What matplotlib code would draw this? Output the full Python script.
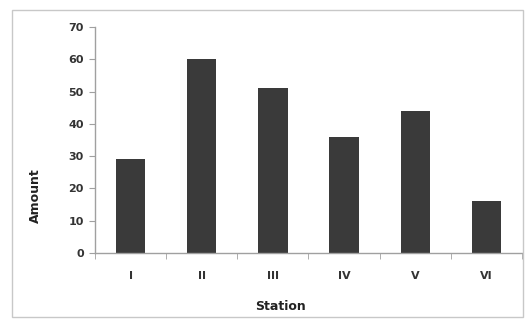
import matplotlib.pyplot as plt
import numpy as np
from matplotlib.patches import Rectangle

stations = ['I', 'II', 'III', 'IV', 'V', 'VI']
amounts = [29, 60, 51, 36, 44, 16]

fig = plt.figure(figsize=(5.28, 3.24), dpi=100)
# outer chart border like the spreadsheet frame
fig.patches.append(Rectangle((12 / 528, 1 - 317 / 324), 511 / 528, 307 / 324,
                             transform=fig.transFigure, fill=False,
                             edgecolor='#c8c8c8', linewidth=1.0))

ax = fig.add_axes([95 / 528, 1 - 253 / 324, 427 / 528, 226 / 324])
x = np.arange(len(stations))
ax.bar(x, amounts, width=0.41, color='#3a3a3a')

ax.set_xlim(-0.5, len(stations) - 0.5)
ax.set_ylim(0, 70)
ax.set_yticks(range(0, 71, 10))
ax.set_xticks(x)
ax.set_xticklabels(stations)
ax.set_xticks(np.arange(-0.5, len(stations), 1), minor=True)

for s in ['top', 'right']:
    ax.spines[s].set_visible(False)
for s in ['left', 'bottom']:
    ax.spines[s].set_color('#a0a0a0')
    ax.spines[s].set_linewidth(1.0)

ax.tick_params(axis='x', which='major', length=0, pad=13)
ax.tick_params(axis='x', which='minor', length=4, color='#a0a0a0')
ax.tick_params(axis='y', length=4, color='#a0a0a0', pad=4)
for lab in ax.get_xticklabels() + ax.get_yticklabels():
    lab.set_fontsize(8)
    lab.set_fontweight('bold')
    lab.set_color('#333333')

ax.set_xlabel('Station', fontsize=9, fontweight='bold', color='#222222')
ax.set_ylabel('Amount', fontsize=9, fontweight='bold', color='#222222')
ax.xaxis.set_label_coords((281 - 95) / 427, -(300 - 253) / 226)
ax.yaxis.set_label_coords(-(95 - 42) / 427, (253 - 196) / 226)

fig.savefig('out.png', dpi=100)
